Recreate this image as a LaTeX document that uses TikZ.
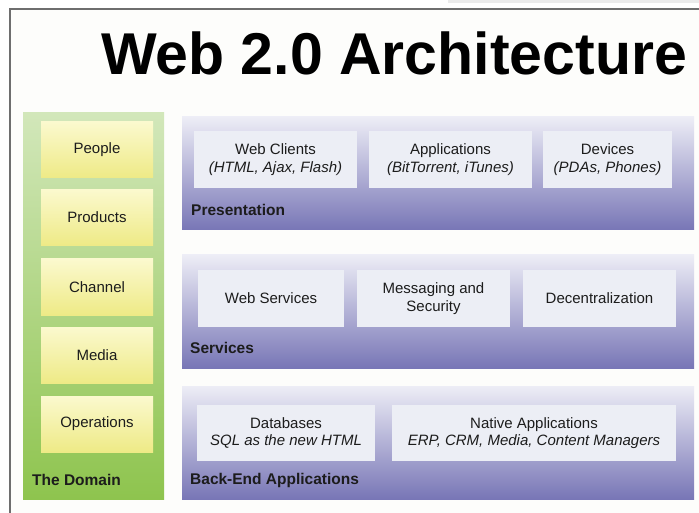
\documentclass[tikz,border=0pt]{standalone}
\usepackage{fontspec}
\setmainfont{Liberation Sans}
\definecolor{frameGray}{HTML}{6E6E6E}
\definecolor{paper}{HTML}{FDFDFB}
\definecolor{greenTop}{HTML}{D2E7BA}
\definecolor{greenBot}{HTML}{8EC44E}
\definecolor{yellowTop}{HTML}{FBF9CE}
\definecolor{yellowBot}{HTML}{EEEA86}
\definecolor{purpTop}{HTML}{EDEDF6}
\definecolor{purpBot}{HTML}{7876B6}
\definecolor{cellFill}{HTML}{ECEEF5}
\definecolor{ink}{HTML}{1C1C1C}
\begin{document}
\begin{tikzpicture}[x=1pt,y=-1pt,
  domainbox/.style={minimum width=112pt,minimum height=56pt,inner sep=0pt,
    top color=yellowTop,bottom color=yellowBot,text=ink,font=\fontsize{15}{17}\selectfont},
  layerbox/.style={minimum width=512pt,minimum height=113pt,inner sep=0pt,
    top color=purpTop,bottom color=purpBot},
  cellbox/.style={minimum height=57pt,inner sep=0pt,fill=cellFill,text=ink,align=center,
    font=\fontsize{15}{17.5}\selectfont},
  tagline/.style={anchor=west,inner sep=0pt,text=ink,font=\fontsize{15.5}{17}\selectfont\bfseries}]
\useasboundingbox (0,0) rectangle (699,513);
\fill[paper] (10,9) rectangle (699,513);
\fill[black!8] (448,0) rectangle (699,3);
\draw[frameGray,line width=2.5pt] (10,513) -- (10,9) -- (699,9);

\node (title) at (394,53) {\fontsize{59}{60}\selectfont\bfseries Web 2.0 Architecture};

% the domain column
\node[minimum width=141pt,minimum height=386pt,inner sep=0pt,
  top color=greenTop,bottom color=greenBot] (dom) at (93.5,306) {};
\node[domainbox] (people) at (97,150) {People};
\node[domainbox] (products) at (97,217.5) {Products};
\node[domainbox] (channel) at (97,287) {Channel};
\node[domainbox] (media) at (97,355) {Media};
\node[domainbox] (ops) at (97,424) {Operations};
\node[tagline] (domlbl) at (32,480) {The Domain};

% presentation layer
\node[layerbox] (pres) at (438,173.5) {};
\node[cellbox,minimum width=163pt] (webcl) at (275.5,159.5) {Web Clients\\\itshape(HTML, Ajax, Flash)};
\node[cellbox,minimum width=163pt] (apps) at (450.5,159.5) {Applications\\\itshape(BitTorrent, iTunes)};
\node[cellbox,minimum width=129pt] (dev) at (607.5,159.5) {Devices\\\itshape(PDAs, Phones)};
\node[tagline] (preslbl) at (191,210) {Presentation};

% services layer
\node[layerbox] (serv) at (438,311.5) {};
\node[cellbox,minimum width=146pt] (websv) at (271,298.5) {Web Services};
\node[cellbox,minimum width=153pt] (msg) at (433.5,298.5) {Messaging and\\Security};
\node[cellbox,minimum width=153pt] (decen) at (599.5,298.5) {Decentralization};
\node[tagline] (servlbl) at (190,348) {Services};

% back-end layer
\node[layerbox] (back) at (438,442.5) {};
\node[cellbox,minimum width=178pt,minimum height=56pt] (db) at (286,433) {Databases\\\itshape SQL as the new HTML};
\node[cellbox,minimum width=284pt,minimum height=56pt] (native) at (534,433) {Native Applications\\\itshape ERP, CRM, Media, Content Managers};
\node[tagline] (backlbl) at (190,480) {Back-End Applications};
\end{tikzpicture}
\end{document}
